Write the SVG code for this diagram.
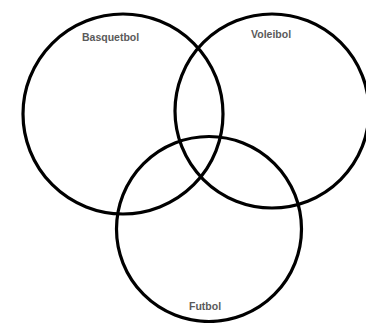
<svg xmlns="http://www.w3.org/2000/svg" width="366" height="323" viewBox="0 0 366 323">
<style>
.c{fill:none;stroke:#000;stroke-width:3.2}
.t{font-family:"Liberation Sans",Arial,sans-serif;font-size:10.5px;fill:#5a5a5a;font-weight:bold}
</style>
<rect width="366" height="323" fill="#fff"/>
<g id="basquetbol"><circle class="c" cx="123" cy="114" r="100"/><text class="t" x="82" y="41">Basquetbol</text></g>
<g id="voleibol"><circle class="c" cx="272" cy="111" r="97"/><text class="t" x="251" y="38">Voleibol</text></g>
<g id="futbol"><circle class="c" cx="209" cy="229" r="92.5"/><text class="t" x="189" y="310">Futbol</text></g>
<g id="connectors"/>
</svg>
